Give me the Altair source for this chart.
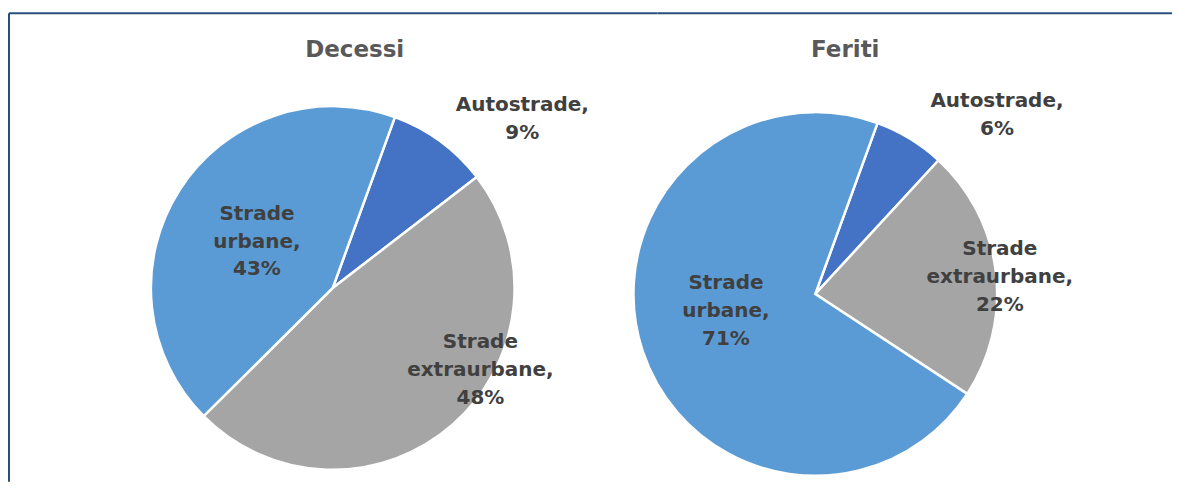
import math
import altair as alt
import pandas as pd

categories = ["Autostrade", "Strade extraurbane", "Strade urbane"]
decessi_values = [9, 48, 43]
feriti_values = [6.3, 22.4, 71.3]
decessi_labels = ["Autostrade,\n9%", "Strade\nextraurbane,\n48%", "Strade\nurbane,\n43%"]
feriti_labels = ["Autostrade,\n6%", "Strade\nextraurbane,\n22%", "Strade\nurbane,\n71%"]
slice_colors = ["#4472C4", "#A5A5A5", "#5B9BD5"]
titles = ["Decessi", "Feriti"]

START = math.radians(20)
FONT = "DejaVu Sans"
BORDER = "#264F7F"


def frame(values, labels):
    return pd.DataFrame({
        "category": categories,
        "value": values,
        "label": labels,
        "order": list(range(len(categories))),
    })


def pie(values, labels, title, width, height, title_dx, label_pos,
        top_x, top_x2, left_border=False):
    df = frame(values, labels)
    base = alt.Chart(df).encode(
        theta=alt.Theta("value:Q", stack=True,
                        scale=alt.Scale(range=[START, START + 2 * math.pi])),
        order=alt.Order("order:Q", sort="ascending"),
    )
    arcs = base.mark_arc(outerRadius=182, stroke="white", strokeWidth=2.5).encode(
        color=alt.Color("category:N",
                        scale=alt.Scale(domain=categories, range=slice_colors),
                        legend=None)
    )
    bdf = pd.DataFrame({"a": [0]})
    layers = [alt.Chart(bdf).mark_rule(color=BORDER, strokeWidth=2).encode(
        x=alt.value(top_x), x2=alt.value(top_x2), y=alt.value(-95))]
    if left_border:
        layers.append(alt.Chart(bdf).mark_rule(color=BORDER, strokeWidth=2).encode(
            x=alt.value(1), y=alt.value(-95), y2=alt.value(374)))
    layers.append(arcs)
    for cat, (r, dx, dy) in zip(categories, label_pos):
        layers.append(
            base.mark_text(radius=r, dx=dx, dy=dy, lineBreak="\n", font=FONT,
                           fontWeight="bold", fontSize=20, lineHeight=28,
                           color="#404040", align="center", baseline="middle").encode(
                text=alt.condition(alt.datum.category == cat,
                                   alt.Text("label:N"), alt.value(""))
            )
        )
    return alt.layer(*layers).properties(
        width=width, height=height,
        title=alt.TitleParams(title, font=FONT, fontSize=23, fontWeight="bold",
                              color="#595959", anchor="middle", dx=title_dx,
                              baseline="alphabetic", offset=0, dy=68,
                              frame="group"),
    )


left_chart = pie(decessi_values, decessi_labels, titles[0], 650, 360, 22,
                 [(240, 48, 11), (150, 49, -59), (90, 0, -26)],
                 1, 650, left_border=True)
right_chart = pie(feriti_values, feriti_labels, titles[1], 316, 372, 30,
                  [(240, 57, 12), (180, 6, -23), (90, -4, -39)],
                  0, 515)

chart = alt.hconcat(left_chart, right_chart, spacing=0, bounds="flush").properties(
    padding={"left": 0, "top": 4, "right": 0, "bottom": 0}
).configure_view(stroke=None)

chart.save("out.html", embed_options={"renderer": "svg", "actions": False})
